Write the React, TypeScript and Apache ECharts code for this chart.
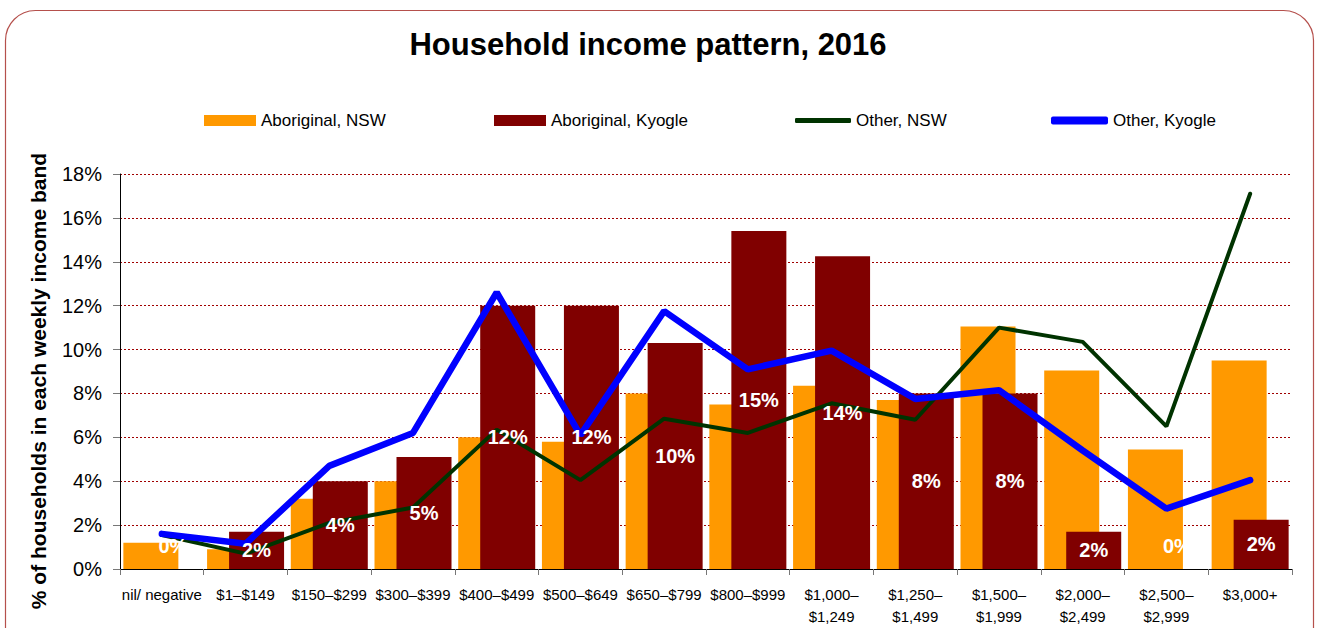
import React, { useEffect, useRef } from "react";
import * as echarts from "echarts";

const categories = [
  "nil/ negative",
  "$1–$149",
  "$150–$299",
  "$300–$399",
  "$400–$499",
  "$500–$649",
  "$650–$799",
  "$800–$999",
  "$1,000–\n$1,249",
  "$1,250–\n$1,499",
  "$1,500–\n$1,999",
  "$2,000–\n$2,499",
  "$2,500–\n$2,999",
  "$3,000+",
];

const aboriginalNSW = [1.2, 0.9, 3.2, 4.0, 6.0, 5.8, 8.0, 7.5, 8.35, 7.7, 11.05, 9.05, 5.45, 9.5];
const aboriginalKyogle = [0, 1.7, 4.0, 5.1, 12.0, 12.0, 10.3, 15.4, 14.25, 8.0, 8.0, 1.7, 0, 2.25];
const otherNSW = [1.55, 0.7, 2.1, 2.8, 6.35, 4.05, 6.85, 6.2, 7.55, 6.8, 11.0, 10.35, 6.5, 17.1];
const otherKyogle = [1.6, 1.15, 4.7, 6.2, 12.6, 6.1, 11.75, 9.1, 9.95, 7.75, 8.15, 5.4, 2.75, 4.05];

const yTicks = { min: 0, max: 18, interval: 2 };

const SANS = "'Liberation Sans', Arial, Helvetica, sans-serif";

export default function App() {
  const ref = useRef<HTMLDivElement>(null);

  useEffect(() => {
    if (!ref.current) return;
    const chart = echarts.init(ref.current, null, { renderer: "svg" });

    const legendText = { fontFamily: SANS, fontSize: 17, color: "#000" };
    const barWidth = 55;
    const labelOffsetX = 11;

    chart.setOption({
      animation: false,
      backgroundColor: "#fff",
      textStyle: { fontFamily: SANS },
      graphic: [
        {
          type: "rect",
          shape: { x: 5.5, y: 10.5, width: 1308, height: 700, r: 30 },
          style: { fill: "none", stroke: "#B5504C", lineWidth: 1.2 },
          z: -1,
          silent: true,
        },
        {
          type: "text",
          x: 648,
          y: 44,
          style: {
            text: "Household income pattern, 2016",
            font: `bold 31px ${SANS}`,
            fill: "#000",
            textAlign: "center",
            textVerticalAlign: "middle",
          },
        },
        {
          type: "text",
          x: 38,
          y: 381,
          rotation: Math.PI / 2,
          style: {
            text: "% of households in each weekly income band",
            font: `bold 21px ${SANS}`,
            fill: "#000",
            textAlign: "center",
            textVerticalAlign: "middle",
          },
        },
      ],
      legend: [
        {
          left: 204, top: 112, padding: 0, itemWidth: 52, itemHeight: 11,
          data: [{ name: "Aboriginal, NSW", icon: "rect" }], textStyle: legendText,
        },
        {
          left: 494, top: 112, padding: 0, itemWidth: 52, itemHeight: 11,
          data: [{ name: "Aboriginal, Kyogle", icon: "rect" }], textStyle: legendText,
        },
        {
          left: 795, top: 112, padding: 0, itemWidth: 56, itemHeight: 5,
          data: [{ name: "Other, NSW", icon: "roundRect" }], textStyle: legendText,
        },
        {
          left: 1051, top: 112, padding: 0, itemWidth: 57, itemHeight: 8,
          data: [{ name: "Other, Kyogle", icon: "roundRect" }], textStyle: legendText,
        },
      ],
      grid: { left: 120, right: 28, top: 174, bottom: 59, containLabel: false, outerBoundsMode: "none" },
      xAxis: {
        type: "category",
        data: categories,
        axisLine: { lineStyle: { color: "#000", width: 1 } },
        axisTick: { show: true, length: 6, lineStyle: { color: "#777" } },
        axisLabel: {
          interval: 0,
          fontFamily: SANS,
          fontSize: 15,
          lineHeight: 22,
          color: "#000",
          margin: 14,
        },
      },
      yAxis: {
        type: "value",
        min: yTicks.min,
        max: yTicks.max,
        interval: yTicks.interval,
        axisLine: { show: true, lineStyle: { color: "#000", width: 1 } },
        axisTick: { show: true, length: 7, lineStyle: { color: "#777" } },
        axisLabel: {
          formatter: "{value}%",
          fontFamily: SANS,
          fontSize: 20,
          color: "#000",
          margin: 18,
        },
        splitLine: { lineStyle: { color: "#A00000", type: [2, 2], width: 1 } },
      },
      series: [
        {
          name: "Aboriginal, NSW",
          type: "bar",
          data: aboriginalNSW,
          barWidth,
          barGap: "-60%",
          itemStyle: { color: "#FF9900" },
          z: 2,
        },
        {
          name: "Aboriginal, Kyogle",
          type: "bar",
          data: aboriginalKyogle,
          barWidth,
          barGap: "-60%",
          itemStyle: { color: "#800000" },
          z: 2,
        },
        {
          name: "Other, NSW",
          type: "line",
          data: otherNSW,
          symbol: "none",
          lineStyle: { color: "#003300", width: 4, cap: "round" },
          itemStyle: { color: "#003300" },
          z: 3,
        },
        {
          name: "Other, Kyogle",
          type: "line",
          data: otherKyogle,
          symbol: "none",
          lineStyle: { color: "#0000FF", width: 6.5, cap: "round" },
          itemStyle: { color: "#0000FF" },
          z: 4,
        },
        {
          name: "labels",
          type: "scatter",
          silent: true,
          symbol: "rect",
          symbolSize: 0,
          itemStyle: { color: "#800000", opacity: 1 },
          emphasis: { disabled: true },
          z: 10,
          data: aboriginalKyogle.map((v) =>
            v === 0 ? { value: 0, label: { offset: [labelOffsetX, -23] } } : v / 2
          ),
          label: {
            show: true,
            position: "inside",
            offset: [labelOffsetX, 0],
            formatter: (p: any) => Math.round(aboriginalKyogle[p.dataIndex]) + "%",
            color: "#ffffff",
            opacity: 1,
            textBorderWidth: 0,
            fontFamily: SANS,
            fontWeight: "bold",
            fontSize: 20,
          },
        },
      ],
    });

    return () => chart.dispose();
  }, []);

  return (
    <div
      ref={ref}
      style={{ position: "absolute", left: 0, top: 0, width: 1320, height: 628 }}
    />
  );
}
